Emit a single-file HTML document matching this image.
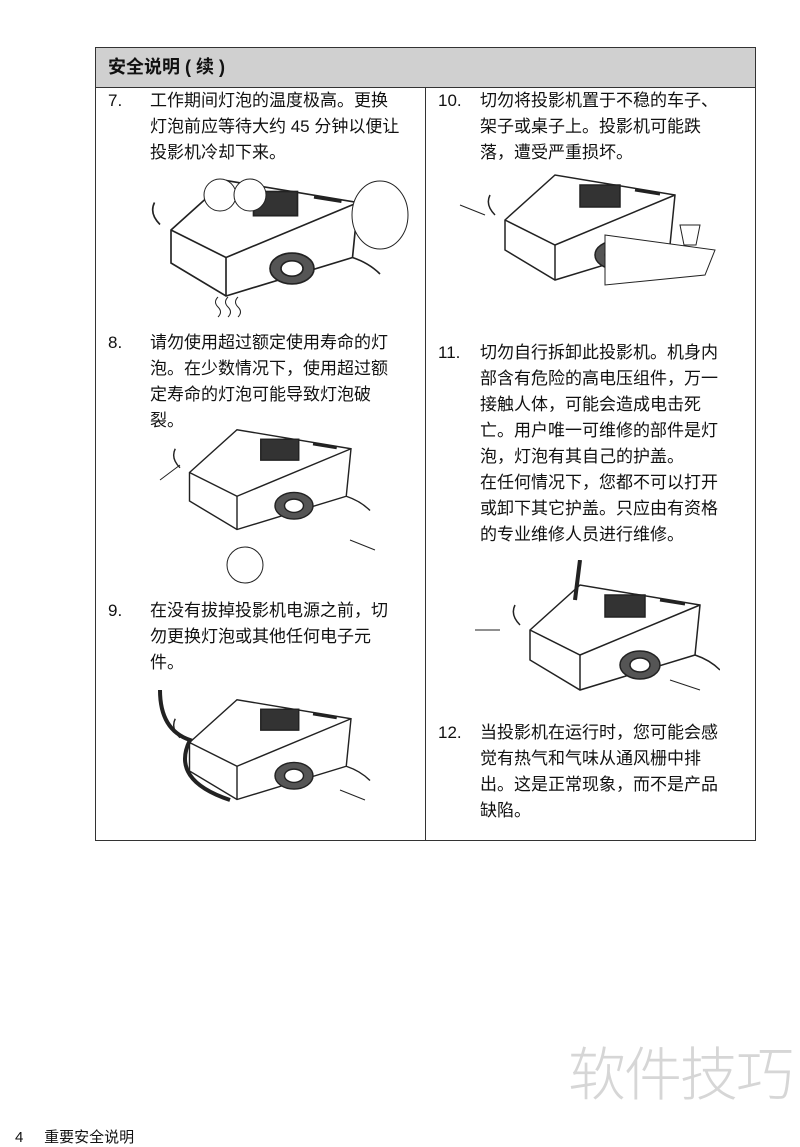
<!DOCTYPE html>
<html><head><meta charset="utf-8"><style>
body{margin:0;background:#fff;width:800px;height:1133px;position:relative;overflow:hidden;font-family:"Liberation Sans","Noto Sans CJK SC",sans-serif;color:#111}
.t{position:absolute;font-size:17px;line-height:26px}
.n{position:absolute;font-size:17px;line-height:26px}
svg{position:absolute}
</style></head><body>
<div style="position:absolute;left:95px;top:47px;width:659px;height:792px;border:1px solid #333"></div>
<div style="position:absolute;left:96px;top:48px;width:659px;height:39px;background:#d0d0d0;border-bottom:1px solid #333"></div>
<div style="position:absolute;left:425px;top:87px;width:1px;height:753px;background:#333"></div>
<div class="t" style="left:108px;top:54px;font-weight:bold;font-size:18px">安全说明 ( 续 )</div>

<div class="n" style="left:108px;top:88px">7.</div>
<div class="t" style="left:150px;top:88px;width:270px">工作期间灯泡的温度极高。更换<br>灯泡前应等待大约 45 分钟以便让<br>投影机冷却下来。</div>
<div class="n" style="left:108px;top:330px">8.</div>
<div class="t" style="left:150px;top:330px;width:270px">请勿使用超过额定使用寿命的灯<br>泡。在少数情况下，使用超过额<br>定寿命的灯泡可能导致灯泡破<br>裂。</div>
<div class="n" style="left:108px;top:598px">9.</div>
<div class="t" style="left:150px;top:598px;width:270px">在没有拔掉投影机电源之前，切<br>勿更换灯泡或其他任何电子元<br>件。</div>

<div class="n" style="left:438px;top:88px">10.</div>
<div class="t" style="left:480px;top:88px;width:270px">切勿将投影机置于不稳的车子、<br>架子或桌子上。投影机可能跌<br>落，遭受严重损坏。</div>
<div class="n" style="left:438px;top:340px">11.</div>
<div class="t" style="left:480px;top:340px;width:270px">切勿自行拆卸此投影机。机身内<br>部含有危险的高电压组件，万一<br>接触人体，可能会造成电击死<br>亡。用户唯一可维修的部件是灯<br>泡，灯泡有其自己的护盖。</div>
<div class="t" style="left:480px;top:470px;width:270px">在任何情况下，您都不可以打开<br>或卸下其它护盖。只应由有资格<br>的专业维修人员进行维修。</div>
<div class="n" style="left:438px;top:720px">12.</div>
<div class="t" style="left:480px;top:720px;width:270px">当投影机在运行时，您可能会感<br>觉有热气和气味从通风栅中排<br>出。这是正常现象，而不是产品<br>缺陷。</div>

<svg width="0" height="0"><defs>
<g id="pj" fill="none" stroke="#222" stroke-width="1.5">
<path d="M10 50 L60 5 L180 25 L175 75 L60 110 L10 80 Z" fill="#fff"/>
<path d="M10 50 L60 75 L180 25"/>
<path d="M60 75 L60 110"/>
<rect x="85" y="15" width="40" height="22" transform="skew(-20) translate(10 0)" fill="#333"/>
<ellipse cx="120" cy="85" rx="20" ry="14" fill="#555"/>
<ellipse cx="120" cy="85" rx="10" ry="7" fill="#fff"/>
<path d="M140 20 l25 4" stroke-width="3"/>
<path d="M0 45 q-10 -10 -5 -20 M175 75 q15 5 25 15"/>
</g></defs></svg>

<svg style="left:120px;top:165px" width="300" height="150"><use href="#pj" transform="translate(40 10) scale(1.1)"/><circle cx="100" cy="30" r="16" fill="#fff" stroke="#222"/><circle cx="130" cy="30" r="16" fill="#fff" stroke="#222"/><ellipse cx="260" cy="50" rx="28" ry="34" fill="#fff" stroke="#222"/></svg>
<svg style="left:210px;top:295px" width="40" height="25"><path d="M8 2q-5 5 0 10t0 10M18 2q-5 5 0 10t0 10M28 2q-5 5 0 10t0 10" fill="none" stroke="#222"/></svg>
<svg style="left:150px;top:420px" width="230" height="175"><use href="#pj" transform="translate(30 5) scale(0.95)"/><circle cx="95" cy="145" r="18" fill="#fff" stroke="#222"/><path d="M10 60 l20 -15 M200 120 l25 10" stroke="#222" fill="none"/></svg>
<svg style="left:140px;top:670px" width="240" height="165"><use href="#pj" transform="translate(40 25) scale(0.95)"/><path d="M20 20 q0 40 30 50 q-20 40 40 60" fill="none" stroke="#222" stroke-width="4"/><path d="M200 120 l25 10" stroke="#222"/></svg>
<svg style="left:455px;top:165px" width="280" height="130"><use href="#pj" transform="translate(40 5) scale(1.0)"/><path d="M150 70 L260 85 L250 110 L150 120 Z" fill="#fff" stroke="#222"/><path d="M225 60 l20 0 l-4 20 l-12 0 z" fill="#fff" stroke="#222"/><path d="M5 40 l25 10" stroke="#222"/></svg>
<svg style="left:470px;top:560px" width="250" height="145"><use href="#pj" transform="translate(50 20) scale(1.0)"/><path d="M110 0 l-5 40" stroke="#222" stroke-width="4"/><path d="M5 70 l25 0 M200 120 l30 10" stroke="#222"/></svg>

<div style="position:absolute;left:568px;top:1035px;font-size:58px;line-height:70px;color:#d6d6d6;font-family:'Noto Sans CJK SC',sans-serif;font-weight:300;letter-spacing:-2px">软件技巧</div>
<div style="position:absolute;left:15px;top:1126px;font-size:15px;color:#111">4&nbsp;&nbsp;&nbsp;&nbsp;&nbsp;重要安全说明</div>
</body></html>
